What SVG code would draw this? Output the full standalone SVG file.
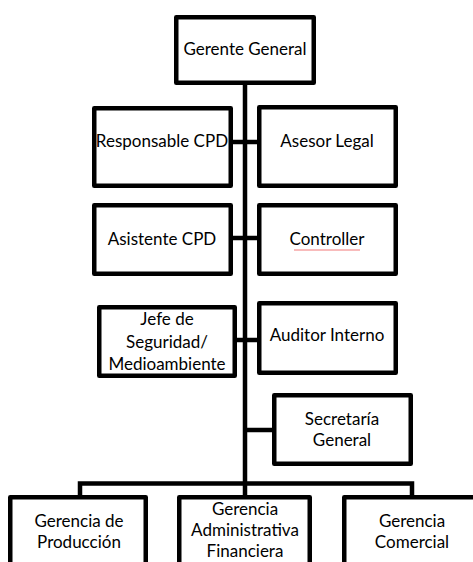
<svg xmlns="http://www.w3.org/2000/svg" width="473" height="562" viewBox="0 0 473 562">
<style>
.box{fill:#fff;stroke:#000;stroke-width:4.5;stroke-linejoin:round}
.ln{fill:none;stroke:#000;stroke-width:4.5}
text{font-family:Lato,"Liberation Sans",sans-serif;font-size:17px;fill:#000;text-anchor:middle}
</style>
<rect width="473" height="562" fill="#fff"/>
<g id="connectors">
<line class="ln" x1="245" y1="85" x2="245" y2="485"/>
<line class="ln" x1="233" y1="142" x2="257" y2="142"/>
<line class="ln" x1="233" y1="238" x2="257" y2="238"/>
<line class="ln" x1="237" y1="340" x2="257" y2="340"/>
<line class="ln" x1="245" y1="430" x2="272" y2="430"/>
<path class="ln" d="M80 497V483.5H412V497M245 483.5V497"/>
</g>
<g id="gerente"><rect class="box" x="176.25" y="17.25" width="137.5" height="65.5"/><text x="245" y="55">Gerente General</text></g>
<g id="responsable"><rect class="box" x="94.25" y="108.25" width="136.5" height="77.5"/><text x="162" y="147">Responsable CPD</text></g>
<g id="asesor"><rect class="box" x="259.25" y="107.25" width="136.5" height="78.5"/><text x="327" y="147">Asesor Legal</text></g>
<g id="asistente"><rect class="box" x="94.25" y="205.25" width="136.5" height="68.5"/><text x="162" y="245">Asistente CPD</text></g>
<g id="controller"><rect class="box" x="259.25" y="205.25" width="136.5" height="68.5"/><text x="327" y="245">Controller</text><line x1="294" y1="250" x2="360" y2="250" stroke="#e55" stroke-width="0.8"/></g>
<g id="jefe"><rect class="box" x="99.25" y="307.25" width="135.5" height="68.5"/><text x="167" y="325">Jefe de</text><text x="167" y="348">Seguridad/</text><text x="167" y="370">Medioambiente</text></g>
<g id="auditor"><rect class="box" x="259.25" y="303.25" width="136.5" height="69.5"/><text x="327" y="341">Auditor Interno</text></g>
<g id="secretaria"><rect class="box" x="274.25" y="395.25" width="136.5" height="68.5"/><text x="342" y="425">Secretaría</text><text x="342" y="446">General</text></g>
<g id="produccion"><rect class="box" x="10.25" y="497.25" width="135.5" height="80"/><text x="79" y="527">Gerencia de</text><text x="79" y="548">Producción</text></g>
<g id="administrativa"><rect class="box" x="179.25" y="497.25" width="130.5" height="80"/><text x="245" y="515">Gerencia</text><text x="245" y="536">Administrativa</text><text x="245" y="557">Financiera</text></g>
<g id="comercial"><rect class="box" x="344.25" y="497.25" width="135.5" height="80"/><text x="412" y="527">Gerencia</text><text x="412" y="548">Comercial</text></g>
</svg>
